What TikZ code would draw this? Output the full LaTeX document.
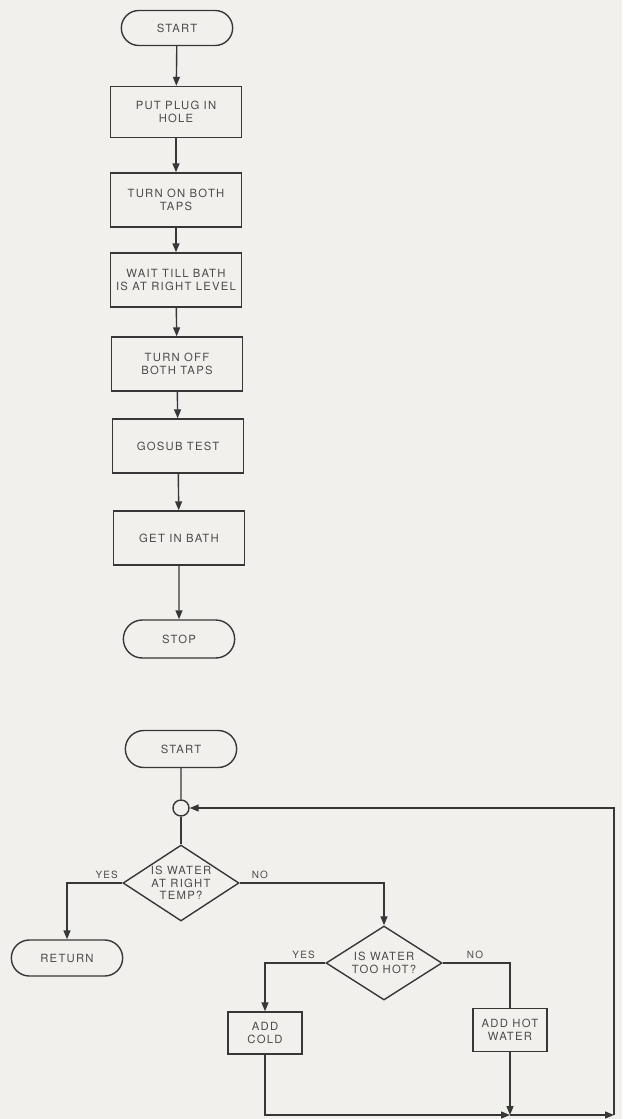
\documentclass[tikz,border=0pt]{standalone}
\usepackage{fontspec}
\newfontfamily\chartfont[LetterSpace=11]{TeX Gyre Heros}
\usetikzlibrary{shapes.geometric,shapes.misc,arrows.meta}
\definecolor{ink}{RGB}{55,55,55}
\definecolor{type}{RGB}{75,75,75}
\definecolor{paper}{RGB}{241,240,237}

\begin{document}
\begin{tikzpicture}[x=1pt,y=-1pt,
  every node/.style={font=\chartfont\fontsize{11.3}{12.5}\selectfont, text=type, align=center},
  stepbox/.style={draw=ink, line width=1.4pt, rectangle, minimum width=131pt, minimum height=54pt, inner sep=1pt},
  smallbox/.style={draw=ink, line width=1.4pt, rectangle, minimum width=74pt, minimum height=42pt, inner sep=1pt},
  term/.style={draw=ink, line width=1.4pt, rounded rectangle, minimum width=118pt, minimum height=35pt},
  test/.style={draw=ink, line width=1.4pt, diamond, aspect=1.5, minimum width=116pt, minimum height=76pt, inner sep=0pt},
  junction/.style={draw=ink, line width=1.4pt, circle, minimum size=16pt, inner sep=0pt},
  answer/.style={font=\chartfont\fontsize{10}{11}\selectfont, inner sep=2pt, above=2pt},
  flow/.style={draw=ink, line width=1.4pt, -{Triangle[length=9pt,width=7pt]}},
  wire/.style={draw=ink, line width=1.4pt}]

\fill[paper] (0,0) rectangle (622,1119);

% filling the bath
\node[term] (start) at (177,28) {START};
\node[stepbox, minimum height=51pt] (plug) at (176,112) {PUT PLUG IN\\HOLE};
\node[stepbox] (tapson) at (176,200) {TURN ON BOTH\\TAPS};
\node[stepbox] (wait) at (176,280) {WAIT TILL BATH\\IS AT RIGHT LEVEL};
\node[stepbox] (tapsoff) at (177,364) {TURN OFF\\BOTH TAPS};
\node[stepbox] (gosub) at (178,446) {GOSUB TEST};
\node[stepbox] (getin) at (179,538) {GET IN BATH};
\node[term, minimum height=38pt] (stop) at (179,639) {STOP};

\path[flow] (start) -- (plug);
\path[flow] (plug) -- (tapson);
\path[flow] (tapson) -- (wait);
\path[flow] (wait) -- (tapsoff);
\path[flow] (tapsoff) -- (gosub);
\path[flow] (gosub) -- (getin);
\path[flow] (getin) -- (stop);

% the TEST subroutine
\node[term, minimum height=37pt] (start2) at (181,749) {START};
\node[junction] (loop) at (181,808) {};
\node[test] (right) at (181,883) {IS WATER\\AT RIGHT\\TEMP?};
\node[term, minimum width=118pt, minimum height=36pt] (return) at (67,958) {RETURN};
\node[test, minimum height=74pt] (hot) at (384,963) {IS WATER\\TOO HOT?};
\node[smallbox] (cold) at (265,1033) {ADD\\COLD};
\node[smallbox, minimum height=43pt] (addhot) at (510,1030) {ADD HOT\\WATER};
\coordinate (merge) at (510,1115);
\coordinate (corner) at (614,1115);

\path[wire] (start2) -- (loop);
\path[wire] (loop) -- (right);
\path[flow] (right.west) -| node[answer, pos=.14] {YES} (return.north);
\path[flow] (right.east) -| node[answer, pos=.07] {NO} (hot.north);
\path[flow] (hot.west) -| node[answer, pos=.18] {YES} (cold.north);
\path[wire] (hot.east) -| node[answer, pos=.24] {NO} (addhot.north);
\path[flow] (cold.south) |- (merge);
\path[flow] (addhot.south) -- (merge);
\path[flow] (merge) -- (corner);
\path[flow] (corner) |- (loop.east);
\end{tikzpicture}
\end{document}
